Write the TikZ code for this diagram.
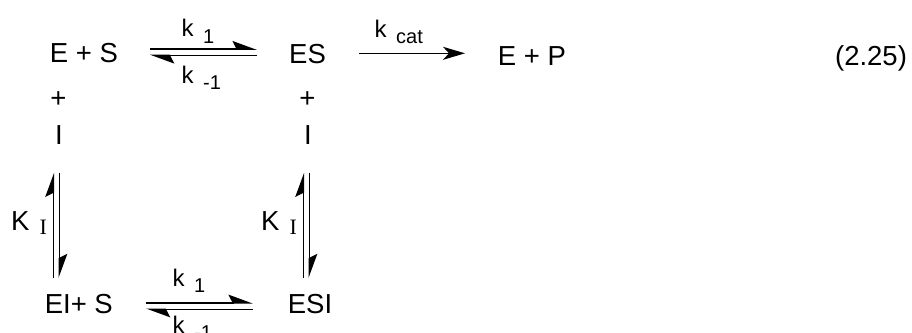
\documentclass[tikz,border=0pt]{standalone}
\usepackage{fontspec}
\setmainfont{Liberation Sans}
\newfontfamily\seriffont{Liberation Serif}
\usetikzlibrary{arrows.meta}

% rate constant: letter with a lowered subscript
\newcommand{\rate}[2]{#1\hspace{9.5pt}\raisebox{-6.6pt}{\fontsize{20}{22}\selectfont #2}}
% equilibrium constant K with a serif subscript I
\newcommand{\eqconst}{K\hspace{10pt}\raisebox{-4pt}{\seriffont\fontsize{22}{24}\selectfont I}}

\begin{document}
\begin{tikzpicture}[x=1pt,y=-1pt,
  species/.style={inner sep=0pt, anchor=base, font=\fontsize{27.5}{33}\selectfont},
  ratelab/.style={inner sep=0pt, anchor=base west, font=\fontsize{24}{26}\selectfont},
  bond/.style={line width=1.6pt},
  barb/.style={bond, -{Stealth[harpoon,length=22pt,width=16pt,inset=4pt]}},
  fwd/.style={bond, -{Stealth[length=22pt,width=13pt,inset=6pt]}}
]
\useasboundingbox (0,0) rectangle (912,332);

% species
\node[species] (ES0) at (84,62.7) {E + S};
\node[species] (ES)  at (307.5,63.3) {ES};
\node[species] (EP)  at (532,65.5) {E + P};
\node[species] (num) at (871,65) {(2.25)};
\node[species] (pl1) at (58.5,107) {+};
\node[species] (in1) at (59,144.5) {I};
\node[species] (pl2) at (307.5,107) {+};
\node[species] (in2) at (308,144.5) {I};
\node[species] (EIS) at (78.8,313.3) {EI+ S};
\node[species] (ESI) at (310,313.3) {ESI};

% rate constants
\node[ratelab] (k1t)  at (181.4,36.7) {\rate{k}{1}};
\node[ratelab] (km1t) at (181.4,83.3) {\rate{k}{-1}};
\node[ratelab] (kcat) at (374.5,37) {\rate{k}{cat}};
\node[ratelab] (k1b)  at (172.4,286) {\rate{k}{1}};
\node[ratelab] (km1b) at (172.4,333) {\rate{k}{-1}};
\node[species, anchor=base west] (KI1) at (11,230) {\eqconst};
\node[species, anchor=base west] (KI2) at (261,230) {\eqconst};

% arrow end points
\coordinate (ta) at (150,49);    \coordinate (tb) at (256.7,49);
\coordinate (tc) at (150,55.5);  \coordinate (td) at (256.7,55.5);
\coordinate (ba) at (146,302.7); \coordinate (bb) at (252.7,302.7);
\coordinate (bc) at (146,309.3); \coordinate (bd) at (252.7,309.3);
\coordinate (ca) at (359,53.3);  \coordinate (cb) at (465,53.3);
\coordinate (la) at (53.3,172.7);  \coordinate (lb) at (53.3,278);
\coordinate (lc) at (59.3,172.7);  \coordinate (ld) at (59.3,278);
\coordinate (ra) at (303.3,172.7); \coordinate (rb) at (303.3,278);
\coordinate (rc) at (309.3,172.7); \coordinate (rd) at (309.3,278);

% equilibria
\draw[barb] (ta) -- (tb);
\draw[barb] (td) -- (tc);
\draw[barb] (ba) -- (bb);
\draw[barb] (bd) -- (bc);
\draw[barb] (lb) -- (la);
\draw[barb] (lc) -- (ld);
\draw[barb] (rb) -- (ra);
\draw[barb] (rc) -- (rd);
% catalytic step
\draw[fwd] (ca) -- (cb);
\end{tikzpicture}
\end{document}
